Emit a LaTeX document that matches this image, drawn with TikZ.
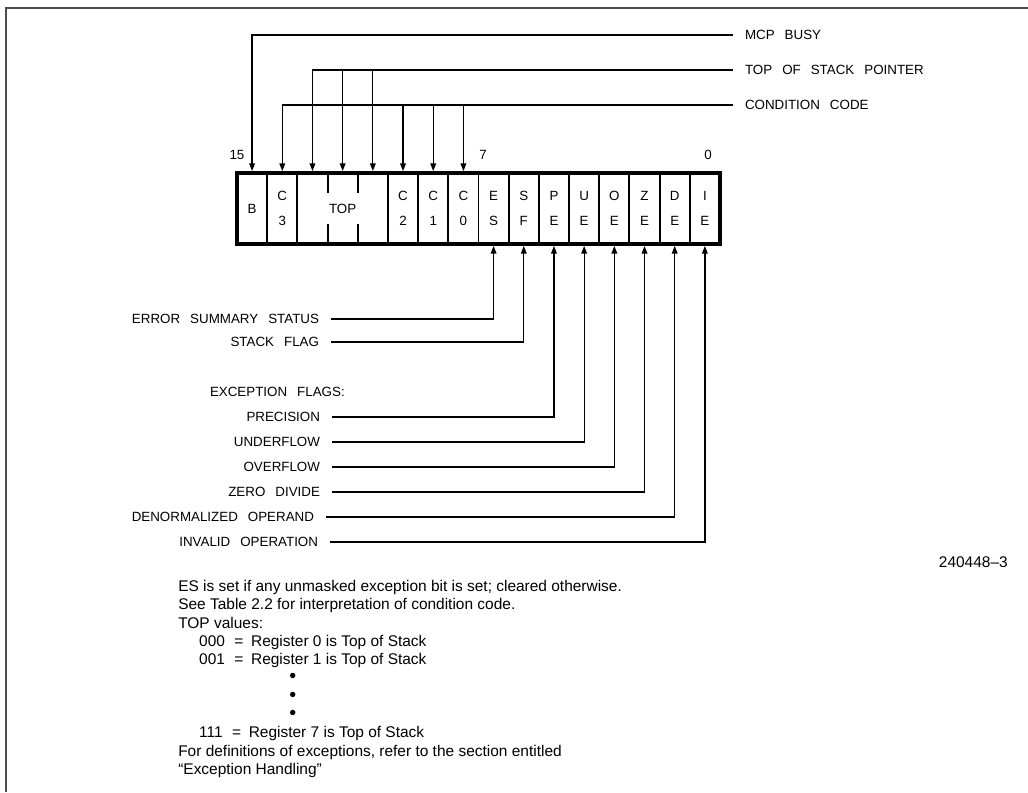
\documentclass[tikz,border=0pt]{standalone}
\usepackage{fontspec}
\setmainfont{Liberation Sans}
\newfontfamily\lblfont[WordSpace=2.7]{Liberation Sans}
\usetikzlibrary{arrows.meta}

\definecolor{framegray}{gray}{0.3}

\tikzset{
  sig/.style={line width=0.9pt},
  sigarrow/.style={line width=0.9pt, -{Triangle[length=0.19cm,width=0.14cm]}},
  lbl/.style={font=\lblfont\fontsize{9.5}{11}\selectfont, inner sep=0pt, outer xsep=0.3cm, outer ysep=0pt},
  cellbit/.style={font=\lblfont\fontsize{9.5}{17.5}\selectfont, align=center, inner sep=0pt},
  regbox/.style={draw, line width=2.7pt, minimum width=12.075cm, minimum height=1.775cm, inner sep=0pt},
  divider/.style={line width=1.4pt},
}

\newcommand{\bigdot}{{\fontsize{14}{13}\selectfont •}}

\begin{document}
\begin{tikzpicture}[x=0.025cm, y=-0.025cm]

  \useasboundingbox (0,0) rectangle (1028,792);

  % frame
  \draw [framegray, line width=1.5pt] (6,792) -- (6,8) -- (1028,8);

  % register
  \node [regbox] (reg) at (478.5,208.5) {};

  \foreach \i in {1,2,5,6,7,8,9,10,11,12,13,14,15}
    \draw [divider] ({237+30.1875*\i},173) -- ({237+30.1875*\i},244);
  \foreach \i in {3,4} {
    \draw [divider] ({237+30.1875*\i},173) -- ({237+30.1875*\i},193);
    \draw [divider] ({237+30.1875*\i},224) -- ({237+30.1875*\i},244);
  }

  \node [cellbit] (cB)   at (252.09,208.5) {B};
  \node [cellbit] (cC3)  at (282.28,208.5) {C\\3};
  \coordinate (top13) at (312.47,208.5);
  \node [cellbit] (cTOP) at (342.66,208.5) {TOP};
  \coordinate (top11) at (372.84,208.5);
  \node [cellbit] (cC2)  at (403.03,208.5) {C\\2};
  \node [cellbit] (cC1)  at (433.22,208.5) {C\\1};
  \node [cellbit] (cC0)  at (463.41,208.5) {C\\0};
  \node [cellbit] (cES)  at (493.59,208.5) {E\\S};
  \node [cellbit] (cSF)  at (523.78,208.5) {S\\F};
  \node [cellbit] (cPE)  at (553.97,208.5) {P\\E};
  \node [cellbit] (cUE)  at (584.16,208.5) {U\\E};
  \node [cellbit] (cOE)  at (614.34,208.5) {O\\E};
  \node [cellbit] (cZE)  at (644.53,208.5) {Z\\E};
  \node [cellbit] (cDE)  at (674.72,208.5) {D\\E};
  \node [cellbit] (cIE)  at (704.91,208.5) {I\\E};

  \node [lbl] (n15) at (237,155) {15};
  \node [lbl] (n7)  at (483,155) {7};
  \node [lbl] (n0)  at (708,155) {0};

  % status word fields above
  \node [lbl, anchor=west] (busy) at (733,35)  {MCP BUSY};
  \node [lbl, anchor=west] (tos)  at (733,70)  {TOP OF STACK POINTER};
  \node [lbl, anchor=west] (cc)   at (733,105) {CONDITION CODE};

  \draw [sigarrow] (busy.west) -| (cB |- reg.north);

  \draw [sigarrow] (tos.west) -| (top13 |- reg.north);
  \draw [sigarrow] (cTOP |- tos.west) -- (cTOP |- reg.north);
  \draw [sigarrow] (top11 |- tos.west) -- (top11 |- reg.north);

  \draw [sigarrow] (cc.west) -| (cC3 |- reg.north);
  \draw [sigarrow] (cC2 |- cc.west) -- (cC2 |- reg.north);
  \draw [sigarrow] (cC1 |- cc.west) -- (cC1 |- reg.north);
  \draw [sigarrow] (cC0 |- cc.west) -- (cC0 |- reg.north);

  % flags below
  \node [lbl, anchor=east] (ess)  at (331,319) {ERROR SUMMARY STATUS};
  \node [lbl, anchor=east] (sfl)  at (331,342) {STACK FLAG};
  \node [lbl, anchor=west] (excf) at (198,392) {EXCEPTION FLAGS:};
  \node [lbl, anchor=east] (prec) at (332,417) {PRECISION};
  \node [lbl, anchor=east] (undf) at (332,442) {UNDERFLOW};
  \node [lbl, anchor=east] (ovf)  at (332,467) {OVERFLOW};
  \node [lbl, anchor=east] (zdiv) at (332,492) {ZERO DIVIDE};
  \node [lbl, anchor=east] (dnrm) at (326,517) {DENORMALIZED OPERAND};
  \node [lbl, anchor=east] (inv)  at (330,542) {INVALID OPERATION};

  \draw [sigarrow] (ess.east)  -| (cES |- reg.south);
  \draw [sigarrow] (sfl.east)  -| (cSF |- reg.south);
  \draw [sigarrow] (prec.east) -| (cPE |- reg.south);
  \draw [sigarrow] (undf.east) -| (cUE |- reg.south);
  \draw [sigarrow] (ovf.east)  -| (cOE |- reg.south);
  \draw [sigarrow] (zdiv.east) -| (cZE |- reg.south);
  \draw [sigarrow] (dnrm.east) -| (cDE |- reg.south);
  \draw [sigarrow] (inv.east)  -| (cIE |- reg.south);

  \node [anchor=east, inner sep=0pt, font=\fontsize{11}{13}\selectfont] (fig) at (1008,562) {240448–3};

  % notes
  \node [anchor=north west, align=left, inner sep=0pt, font=\fontsize{11}{13}\selectfont] (notes) at (178,580) {%
    ES is set if any unmasked exception bit is set; cleared otherwise.\\
    See Table 2.2 for interpretation of condition code.\\
    TOP values:\\
    \hspace*{14.9pt}000\hspace{0.6em}=\hspace{0.5em}Register 0 is Top of Stack\\
    \hspace*{14.9pt}001\hspace{0.6em}=\hspace{0.5em}Register 1 is Top of Stack\\
    \hspace*{79pt}\bigdot\\
    \hspace*{79pt}\bigdot\\
    \hspace*{79pt}\bigdot\\
    \hspace*{14.9pt}111\hspace{0.6em}=\hspace{0.5em}Register 7 is Top of Stack\\
    For definitions of exceptions, refer to the section entitled\\
    “Exception Handling”};

\end{tikzpicture}
\end{document}
